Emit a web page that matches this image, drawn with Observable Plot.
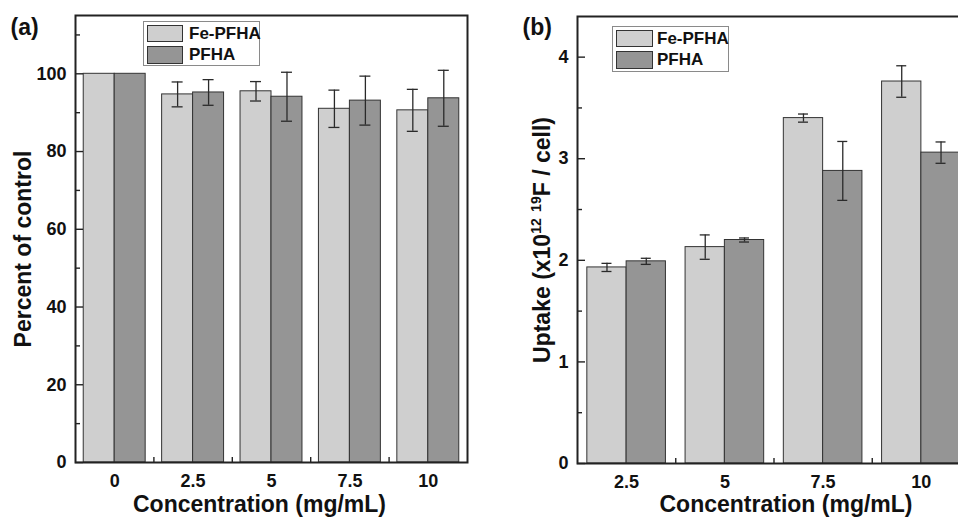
<!DOCTYPE html>
<html>
<head>
<meta charset="utf-8">
<script src="https://cdn.jsdelivr.net/npm/d3@7"></script>
<script src="https://cdn.jsdelivr.net/npm/@observablehq/plot@0.6"></script>
<style>
  html, body { margin: 0; padding: 0; background: white; }
  #wrap { position: relative; width: 958px; height: 520px; overflow: hidden; background: white; }
  .panel { position: absolute; top: 0; }
  .legend { position: absolute; border: 1px solid #8a8a8a; box-sizing: border-box; background: white; }
  .sw { position: absolute; box-sizing: border-box; border: 1.5px solid #333; }
  .lt { position: absolute; font-family: 'Liberation Sans', Arial, sans-serif; font-weight: bold; font-size: 17px; color: #111; line-height: 1; white-space: nowrap; }
</style>
</head>
<body>
<div id="wrap">
  <div class="panel" id="pa" style="left:0;width:480px"></div>
  <div class="panel" id="pb" style="left:480px;width:500px"></div>
</div>
<script>
// ---- data: panel (a) cytotoxicity ----
const concA = ["0", "2.5", "5", "7.5", "10"];
const feA = [100, 94.7, 95.5, 91.0, 90.6];
const feErrA = [0, 3.2, 2.5, 4.8, 5.4];
const pfA = [100, 95.2, 94.1, 93.1, 93.7];
const pfErrA = [0, 3.3, 6.3, 6.3, 7.2];
const yTicksA = [0, 20, 40, 60, 80, 100];
const yMinorA = [10, 30, 50, 70, 90, 110];

// ---- data: panel (b) uptake ----
const concB = ["2.5", "5", "7.5", "10"];
const feB = [1.93, 2.13, 3.40, 3.76];
const feErrB = [0.04, 0.12, 0.04, 0.155];
const pfB = [1.99, 2.20, 2.88, 3.06];
const pfErrB = [0.03, 0.02, 0.29, 0.105];
const yTicksB = [0, 1, 2, 3, 4];
const yMinorB = [0.5, 1.5, 2.5, 3.5];

const seriesNames = ["Fe-PFHA", "PFHA"];
const colors = ["#cfcfcf", "#959595"];
const xTitle = "Concentration (mg/mL)";
const yTitleA = "Percent of control";
const yTitleBParts = [["Uptake (x10", false], ["12", true], [" ", false], ["19", true], ["F / cell)", false]];
const yTitleB = yTitleBParts.map(d => d[0]).join("");

const FONT = "'Liberation Sans', Arial, Helvetica, sans-serif";
const INK = "#222";

function panel(cfg) {
  const {width, height, ml, mr, mt, mb, cats, fe, feErr, pf, pfErr, yDomain, yTicks, yMinor,
         padIn, capW, label, yTitle, labelDx, labelDy, xtDx, xtDy, ytDx, ytDy} = cfg;
  const data = cats.map((c, i) => ({conc: c, fe: fe[i], feErr: feErr[i], pf: pf[i], pfErr: pfErr[i]}));
  const innerW = width - ml - mr, innerH = height - mt - mb;
  const step = innerW / cats.length;
  const bw = step * (1 - padIn);
  const feE = data.filter(d => d.feErr > 0), pfE = data.filter(d => d.pfErr > 0);
  const eb = {stroke: "#2a2a2a", strokeWidth: 1.3};
  return Plot.plot({
    width, height, marginLeft: ml, marginRight: mr, marginTop: mt, marginBottom: mb,
    style: {fontFamily: FONT, fontSize: "18px", fontWeight: "bold", color: "#111", background: "white", overflow: "visible"},
    x: {domain: cats, paddingInner: padIn, paddingOuter: padIn / 2, round: false, tickSize: 0, tickPadding: 12, label: null},
    y: {domain: yDomain, ticks: yTicks, tickFormat: d => String(d), tickSize: 0, tickPadding: 9, label: null},
    marks: [
      Plot.barY(data, {x: "conc", y: "fe", fill: colors[0], stroke: "#333", strokeWidth: 1, insetRight: bw / 2}),
      Plot.barY(data, {x: "conc", y: "pf", fill: colors[1], stroke: "#333", strokeWidth: 1, insetLeft: bw / 2}),
      Plot.ruleX(feE, {x: "conc", y1: d => d.fe - d.feErr, y2: d => d.fe + d.feErr, dx: -bw / 4, ...eb}),
      Plot.tickY(feE, {x: "conc", y: d => d.fe + d.feErr, insetLeft: bw / 4 - capW / 2, insetRight: 3 * bw / 4 - capW / 2, ...eb}),
      Plot.tickY(feE, {x: "conc", y: d => d.fe - d.feErr, insetLeft: bw / 4 - capW / 2, insetRight: 3 * bw / 4 - capW / 2, ...eb}),
      Plot.ruleX(pfE, {x: "conc", y1: d => d.pf - d.pfErr, y2: d => d.pf + d.pfErr, dx: bw / 4, ...eb}),
      Plot.tickY(pfE, {x: "conc", y: d => d.pf + d.pfErr, insetLeft: 3 * bw / 4 - capW / 2, insetRight: bw / 4 - capW / 2, ...eb}),
      Plot.tickY(pfE, {x: "conc", y: d => d.pf - d.pfErr, insetLeft: 3 * bw / 4 - capW / 2, insetRight: bw / 4 - capW / 2, ...eb}),
      Plot.tickY(yTicks, {y: d => d, insetRight: innerW - 8, stroke: INK, strokeWidth: 1.4}),
      Plot.tickY(yMinor, {y: d => d, insetRight: innerW - 5, stroke: INK, strokeWidth: 1.4}),
      Plot.ruleX(cats.slice(0, -1), {x: d => d, dx: step / 2, insetTop: innerH - 5, stroke: INK, strokeWidth: 1.4}),
      Plot.frame({stroke: INK, strokeWidth: 2}),
      Plot.text([label], {frameAnchor: "top-left", textAnchor: "start", lineAnchor: "middle", dx: labelDx, dy: labelDy, fontSize: 23, fill: "#111"}),
      Plot.text([xTitle], {frameAnchor: "bottom", textAnchor: "middle", lineAnchor: "middle", dx: xtDx, dy: xtDy, fontSize: 23, fill: "#111"}),
      Plot.text([yTitle], {frameAnchor: "left", textAnchor: "middle", lineAnchor: "middle", rotate: -90, dx: ytDx, dy: ytDy, fontSize: 23, fill: "#111"})
    ]
  });
}

const svgA = panel({
  width: 480, height: 520, ml: 75, mr: 13, mt: 15, mb: 58,
  cats: concA, fe: feA, feErr: feErrA, pf: pfA, pfErr: pfErrA,
  yDomain: [0, 115], yTicks: yTicksA, yMinor: yMinorA, padIn: 0.21, capW: 11,
  label: "(a)", yTitle: yTitleA, labelDx: -65, labelDy: 12, xtDx: -12, xtDy: 42, ytDx: -52, ytDy: 10
});
document.getElementById("pa").appendChild(svgA);

const svgB = panel({
  width: 500, height: 520, ml: 97, mr: 10, mt: 16, mb: 57,
  cats: concB, fe: feB, feErr: feErrB, pf: pfB, pfErr: pfErrB,
  yDomain: [0, 4.4], yTicks: yTicksB, yMinor: yMinorB, padIn: 0.2, capW: 10,
  label: "(b)", yTitle: yTitleB, labelDx: -55, labelDy: 11, xtDx: 12, xtDy: 41, ytDx: -35, ytDy: 0
});
document.getElementById("pb").appendChild(svgB);

// superscripts in the panel (b) y title
d3.select(svgB).selectAll("text").filter(function () { return this.textContent === yTitleB; }).each(function () {
  const t = d3.select(this);
  t.text(null);
  let raised = false;
  yTitleBParts.forEach(([s, sup]) => {
    const ts = t.append("tspan").text(s);
    if (sup) { ts.attr("font-size", 14); if (!raised) { ts.attr("dy", -9); raised = true; } }
    else { if (raised) { ts.attr("dy", 9); raised = false; } }
  });
});

// legends
function legend(box, sw1, sw2, textX) {
  const wrap = document.getElementById("wrap");
  const b = document.createElement("div");
  b.className = "legend";
  Object.assign(b.style, {left: box[0] + "px", top: box[1] + "px", width: box[2] + "px", height: box[3] + "px"});
  wrap.appendChild(b);
  [sw1, sw2].forEach((s, i) => {
    const d = document.createElement("div");
    d.className = "sw";
    Object.assign(d.style, {left: s[0] + "px", top: s[1] + "px", width: s[2] + "px", height: s[3] + "px", background: colors[i]});
    wrap.appendChild(d);
    const t = document.createElement("div");
    t.className = "lt";
    t.textContent = seriesNames[i];
    Object.assign(t.style, {left: textX + "px", top: (s[1] + s[3] / 2 - 8.5) + "px"});
    wrap.appendChild(t);
  });
}
legend([143, 21, 117, 45], [147, 24.5, 35.5, 17.5], [147, 46, 35.5, 17.5], 189);
legend([612, 26, 117, 45.5], [616, 29.5, 36.5, 17.5], [616, 51, 36.5, 17.5], 657);
</script>
</body>
</html>
